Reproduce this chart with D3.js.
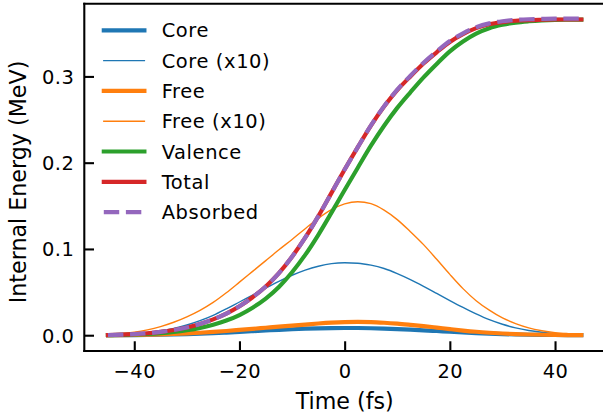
<!DOCTYPE html>
<html>
<head>
<meta charset="utf-8">
<script src="https://cdn.jsdelivr.net/npm/d3@7/dist/d3.min.js"></script>
<style>
  html, body { margin: 0; padding: 0; background: #fff; }
  svg { display: block; }
  text { font-family: "DejaVu Sans", sans-serif; fill: #000; }
</style>
</head>
<body>
<svg id="chart" width="603" height="417"></svg>
<script>
// ---- data ----
const time = [-45, -42.5, -40, -37.5, -35, -32.5, -30, -27.5, -25, -22.5, -20, -17.5, -15, -12.5, -10, -7.5, -5, -2.5,
  0, 2.5, 5, 7.5, 10, 12.5, 15, 17.5, 20, 22.5, 25, 27.5, 30, 32.5, 35, 37.5, 40, 42.5, 45];

const coreX10 = [0.0006, 0.0011, 0.0019, 0.0032, 0.0052, 0.0080, 0.0118, 0.0168, 0.0230, 0.0305, 0.0385, 0.0465,
  0.0545, 0.0625, 0.0695, 0.0755, 0.0800, 0.0830, 0.0840, 0.0835, 0.0812, 0.0773, 0.0715, 0.0645, 0.0567, 0.0485,
  0.0402, 0.0322, 0.0247, 0.0180, 0.0127, 0.0085, 0.0055, 0.0035, 0.0021, 0.0012, 0.0007];

const core = [0.00006, 0.00011, 0.00019, 0.00032, 0.00052, 0.00080, 0.00118, 0.00168, 0.00230, 0.00305, 0.00385,
  0.00465, 0.00545, 0.00625, 0.00695, 0.00755, 0.00800, 0.00830, 0.00840, 0.00835, 0.00812, 0.00773, 0.00715,
  0.00645, 0.00567, 0.00485, 0.00402, 0.00322, 0.00247, 0.00180, 0.00127, 0.00085, 0.00055, 0.00035, 0.00021,
  0.00012, 0.00007];

const freeX10 = [0.0008, 0.0018, 0.0035, 0.0062, 0.0100, 0.0150, 0.0213, 0.0288, 0.0380, 0.0492, 0.0615, 0.0740,
  0.0865, 0.0990, 0.1110, 0.1235, 0.1355, 0.1455, 0.1522, 0.1547, 0.1525, 0.1450, 0.1340, 0.1200, 0.1050, 0.0880,
  0.0705, 0.0540, 0.0400, 0.0290, 0.0200, 0.0135, 0.0085, 0.0052, 0.0030, 0.0018, 0.0010];

const free = [0.00008, 0.00018, 0.00035, 0.00062, 0.00100, 0.00150, 0.00213, 0.00288, 0.00380, 0.00492, 0.00615,
  0.00740, 0.00865, 0.00990, 0.01110, 0.01235, 0.01355, 0.01455, 0.01522, 0.01547, 0.01525, 0.01450, 0.01340,
  0.01200, 0.01050, 0.00880, 0.00705, 0.00540, 0.00400, 0.00290, 0.00200, 0.00135, 0.00085, 0.00052, 0.00030,
  0.00018, 0.00010];

const valence = [0.0001, 0.0003, 0.0008, 0.0014, 0.0023, 0.0037, 0.0057, 0.0084, 0.0122, 0.0170, 0.0234, 0.0319,
  0.0424, 0.0559, 0.0730, 0.0931, 0.1164, 0.1421, 0.1684, 0.1942, 0.2197, 0.2428, 0.2635, 0.2816, 0.2989, 0.3145,
  0.3291, 0.3405, 0.3497, 0.3559, 0.3598, 0.3624, 0.3639, 0.3649, 0.3655, 0.3657, 0.3658];

const total = [0.0002, 0.0006, 0.0013, 0.0023, 0.0038, 0.0060, 0.0090, 0.0130, 0.0183, 0.0250, 0.0335, 0.0440,
  0.0565, 0.0720, 0.0910, 0.1130, 0.1380, 0.1650, 0.1920, 0.2180, 0.2430, 0.2650, 0.2840, 0.3000, 0.3150, 0.3280,
  0.3400, 0.3490, 0.3560, 0.3605, 0.3630, 0.3645, 0.3653, 0.3657, 0.3660, 0.3660, 0.3660];

const absorbed = [0.0002, 0.0006, 0.0013, 0.0023, 0.0038, 0.0060, 0.0090, 0.0130, 0.0183, 0.0250, 0.0335, 0.0440,
  0.0565, 0.0720, 0.0910, 0.1130, 0.1380, 0.1650, 0.1920, 0.2180, 0.2432, 0.2654, 0.2846, 0.3008, 0.3159, 0.3290,
  0.3410, 0.3500, 0.3570, 0.3615, 0.3640, 0.3655, 0.3663, 0.3667, 0.3670, 0.3670, 0.3670];

const xTicks = [-40, -20, 0, 20, 40];
const yTicks = [0.0, 0.1, 0.2, 0.3];
const seriesNames = ["Core", "Core (x10)", "Free", "Free (x10)", "Valence", "Total", "Absorbed"];
const xLabel = "Time (fs)";
const yLabel = "Internal Energy (MeV)";

// ---- layout / styles ----
const W = 603, H = 417;
const plot = { left: 84.3, right: 605, top: 3.7, bottom: 351 };
const pxPerPt = 100 / 72;
const thick = 3 * pxPerPt, thin = 1 * pxPerPt;

const styles = [
  { values: core,     color: "#1f77b4", width: thick },
  { values: coreX10,  color: "#1f77b4", width: thin },
  { values: free,     color: "#ff7f0e", width: thick },
  { values: freeX10,  color: "#ff7f0e", width: thin },
  { values: valence,  color: "#2ca02c", width: thick },
  { values: total,    color: "#d62728", width: thick },
  { values: absorbed, color: "#9467bd", width: thick, dash: [3.7 * thick, 1.6 * thick] }
];

const svg = d3.select("#chart");
svg.append("rect").attr("width", W).attr("height", H).attr("fill", "#fff");

const x = d3.scaleLinear().domain([-49.5, 49.5]).range([plot.left, plot.right]);
const y = d3.scaleLinear().domain([-0.0183, 0.3843]).range([plot.bottom, plot.top]);

const defs = svg.append("defs");
defs.append("clipPath").attr("id", "clip").append("rect")
  .attr("x", plot.left).attr("y", plot.top)
  .attr("width", plot.right - plot.left).attr("height", plot.bottom - plot.top);

// lines
const g = svg.append("g").attr("clip-path", "url(#clip)");
styles.forEach((s, i) => {
  const pts = time.map((t, j) => [t, s.values[j]]);
  const line = d3.line().x(d => x(d[0])).y(d => y(d[1])).curve(d3.curveMonotoneX);
  g.append("path")
    .attr("d", line(pts))
    .attr("fill", "none")
    .attr("stroke", s.color)
    .attr("stroke-width", s.width)
    .attr("stroke-linecap", s.dash ? "butt" : "square")
    .attr("stroke-linejoin", "round")
    .attr("stroke-dasharray", s.dash ? s.dash.join(",") : null);
});

// axes (ticks inward)
const tickLen = 7 * pxPerPt;
const tickW = 1.5 * pxPerPt;
const xAxis = d3.axisBottom(x).tickValues(xTicks).tickSizeInner(-tickLen).tickSizeOuter(0)
  .tickPadding(0).tickFormat(d => d3.format("d")(d).replace("-", "\u2212"));
const gx = svg.append("g").attr("transform", `translate(0,${plot.bottom})`).call(xAxis);
gx.select(".domain").remove();
gx.selectAll(".tick line").attr("stroke", "#000").attr("stroke-width", tickW);
gx.selectAll(".tick text").attr("y", 26.5).attr("dy", 0).attr("font-size", 19.44)
  .attr("letter-spacing", "0.5px")
  .attr("font-family", "DejaVu Sans").attr("fill", "#000");

const yAxis = d3.axisLeft(y).tickValues(yTicks).tickSizeInner(-tickLen).tickSizeOuter(0)
  .tickPadding(0).tickFormat(d3.format(".1f"));
const gy = svg.append("g").attr("transform", `translate(${plot.left},0)`).call(yAxis);
gy.select(".domain").remove();
gy.selectAll(".tick line").attr("stroke", "#000").attr("stroke-width", tickW);
gy.selectAll(".tick text").attr("x", -10).attr("dy", "0.36em").attr("font-size", 19.44)
  .attr("letter-spacing", "0.5px")
  .attr("text-anchor", "end").attr("font-family", "DejaVu Sans").attr("fill", "#000");

// spines
const spineW = 1.5 * pxPerPt;
svg.append("line").attr("x1", plot.left).attr("x2", plot.left).attr("y1", plot.top).attr("y2", plot.bottom)
  .attr("stroke", "#000").attr("stroke-width", spineW).attr("stroke-linecap", "square");
svg.append("line").attr("x1", plot.left).attr("x2", plot.right).attr("y1", plot.bottom).attr("y2", plot.bottom)
  .attr("stroke", "#000").attr("stroke-width", spineW).attr("stroke-linecap", "square");
svg.append("line").attr("x1", plot.left).attr("x2", plot.right).attr("y1", plot.top).attr("y2", plot.top)
  .attr("stroke", "#000").attr("stroke-width", spineW).attr("stroke-linecap", "square");
svg.append("line").attr("x1", plot.right).attr("x2", plot.right).attr("y1", plot.top).attr("y2", plot.bottom)
  .attr("stroke", "#000").attr("stroke-width", spineW).attr("stroke-linecap", "square");

// axis labels
svg.append("text").attr("x", (plot.left + plot.right) / 2).attr("y", 409)
  .attr("text-anchor", "middle").attr("font-size", 22.2).text(xLabel);
svg.append("text").attr("transform", `translate(26,182) rotate(-90)`)
  .attr("text-anchor", "middle").attr("font-size", 22.2).text(yLabel);

// legend
const legend = svg.append("g");
const legX1 = 103.8, legX2 = 144.4, legTextX = 161.7, legY0 = 30.3, legDY = 30.3;
seriesNames.forEach((name, i) => {
  const s = styles[i];
  const yy = legY0 + i * legDY;
  legend.append("line").attr("x1", legX1).attr("x2", legX2).attr("y1", yy).attr("y2", yy)
    .attr("stroke", s.color).attr("stroke-width", s.width)
    .attr("stroke-linecap", s.dash ? "butt" : "square")
    .attr("stroke-dasharray", s.dash ? s.dash.join(",") : null);
  legend.append("text").attr("x", legTextX).attr("y", yy + 7).attr("font-size", 19.44)
    .attr("letter-spacing", "0.6px").text(name);
});
</script>
</body>
</html>
